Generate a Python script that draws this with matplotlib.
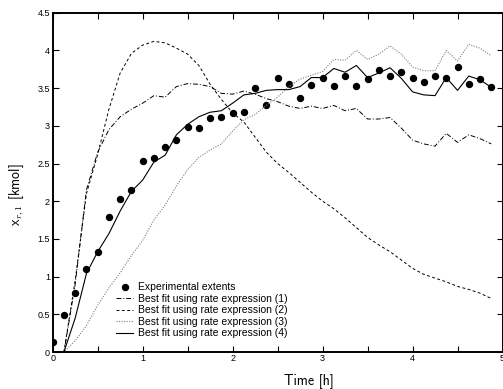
import matplotlib
matplotlib.use('Agg')
import matplotlib.pyplot as plt
import numpy as np

plt.rcParams['font.family'] = ['Liberation Sans', 'DejaVu Sans']
plt.rcParams['mathtext.fontset'] = 'cm'

time_h = [0.0, 0.125, 0.25, 0.375, 0.5, 0.625, 0.75, 0.875, 1.0, 1.125,
          1.25, 1.375, 1.5, 1.625, 1.75, 1.875, 2.0, 2.125, 2.25, 2.375,
          2.5, 2.625, 2.75, 2.875, 3.0, 3.125, 3.25, 3.375, 3.5, 3.625,
          3.75, 3.875, 4.0, 4.125, 4.25, 4.375, 4.5, 4.625, 4.75, 4.875]

experimental = [0.13, 0.49, 0.78, 1.10, 1.32, 1.79, 2.03, 2.15, 2.53, 2.57,
                2.72, 2.81, 2.98, 2.97, 3.11, 3.12, 3.17, 3.18, 3.50, 3.27,
                3.64, 3.55, 3.37, 3.54, 3.64, 3.53, 3.66, 3.53, 3.62, 3.74,
                3.66, 3.72, 3.64, 3.58, 3.66, 3.63, 3.78, 3.56, 3.62, 3.51]

fit1 = [0.0, 0.0, 0.90, 2.15, 2.65, 2.95, 3.12, 3.22, 3.30, 3.40,
        3.38, 3.52, 3.56, 3.55, 3.52, 3.43, 3.42, 3.46, 3.42, 3.36,
        3.32, 3.26, 3.23, 3.26, 3.23, 3.27, 3.20, 3.23, 3.09, 3.09,
        3.11, 2.97, 2.81, 2.76, 2.73, 2.90, 2.78, 2.88, 2.83, 2.76]

fit2 = [0.0, 0.0, 0.95, 2.10, 2.62, 3.22, 3.70, 3.96, 4.07, 4.12,
        4.10, 4.03, 3.95, 3.80, 3.55, 3.35, 3.17, 3.05, 2.85, 2.65,
        2.50, 2.38, 2.25, 2.12, 2.00, 1.90, 1.78, 1.65, 1.52, 1.42,
        1.33, 1.22, 1.11, 1.03, 0.98, 0.93, 0.87, 0.83, 0.78, 0.71]

fit3 = [0.0, 0.0, 0.15, 0.35, 0.62, 0.85, 1.05, 1.28, 1.48, 1.75,
        1.95, 2.20, 2.42, 2.58, 2.68, 2.76, 2.93, 3.08, 3.15, 3.27,
        3.38, 3.52, 3.62, 3.67, 3.72, 3.88, 3.87, 4.00, 3.88, 3.95,
        4.06, 3.95, 3.78, 3.73, 3.73, 4.00, 3.86, 4.08, 4.03, 3.93]

fit4 = [0.0, 0.0, 0.45, 1.04, 1.33, 1.57, 1.87, 2.13, 2.28, 2.52,
        2.61, 2.88, 3.02, 3.12, 3.18, 3.20, 3.30, 3.41, 3.43, 3.47,
        3.48, 3.48, 3.52, 3.64, 3.64, 3.76, 3.71, 3.80, 3.64, 3.70,
        3.77, 3.63, 3.45, 3.41, 3.40, 3.64, 3.47, 3.66, 3.61, 3.51]

labels = ['Experimental extents',
          'Best fit using rate expression (1)',
          'Best fit using rate expression (2)',
          'Best fit using rate expression (3)',
          'Best fit using rate expression (4)']

fig = plt.figure(figsize=(5.03, 3.89), dpi=100)
ax = fig.add_axes([52.7 / 503, 37 / 389, 449.8 / 503, 339.3 / 389])

ax.plot(time_h, experimental, 'o', color='black', markersize=4.3, label=labels[0])
ax.plot(time_h, fit1, color='black', lw=0.7, dashes=(5, 2, 1, 2), label=labels[1])
ax.plot(time_h, fit2, color='black', lw=0.7, dashes=(3, 2.5), label=labels[2])
ax.plot(time_h, fit3, color='0.5', lw=0.8, dashes=(1, 1.3), label=labels[3])
ax.plot(time_h, fit4, color='black', lw=0.8, label=labels[4])

ax.set_xlim(0, 5)
ax.set_ylim(0, 4.5)
ax.set_xticks(np.arange(0, 5.01, 0.5))
ax.set_xticklabels(['0', '', '1', '', '2', '', '3', '', '4', '', '5'])
ax.set_yticks(np.arange(0, 4.51, 0.5))
ax.set_yticklabels(['0', '0.5', '1', '1.5', '2', '2.5', '3', '3.5', '4', '4.5'])
ax.tick_params(direction='in', top=True, right=True, length=4, width=0.8,
               labelsize=6.5, pad=2, colors='black')
ax.tick_params(axis='x', pad=1.5)
for s in ax.spines.values():
    s.set_linewidth(1.4)

ax.set_xlabel('Time [h]', family='cmss10', fontsize=10)
ax.xaxis.set_label_coords(0.57, -0.064)
ax.set_ylabel(r'x$_{r,1}$ [kmol]', family='cmss10', fontsize=10)
ax.yaxis.set_label_coords(-0.059, 0.463)

ax.legend(loc='lower left', bbox_to_anchor=(0.14, 0.04), frameon=False,
          fontsize=7.5, borderpad=0, borderaxespad=0, handlelength=1.7,
          handletextpad=0.4, labelspacing=0.15)

fig.savefig('out.png', dpi=100)
